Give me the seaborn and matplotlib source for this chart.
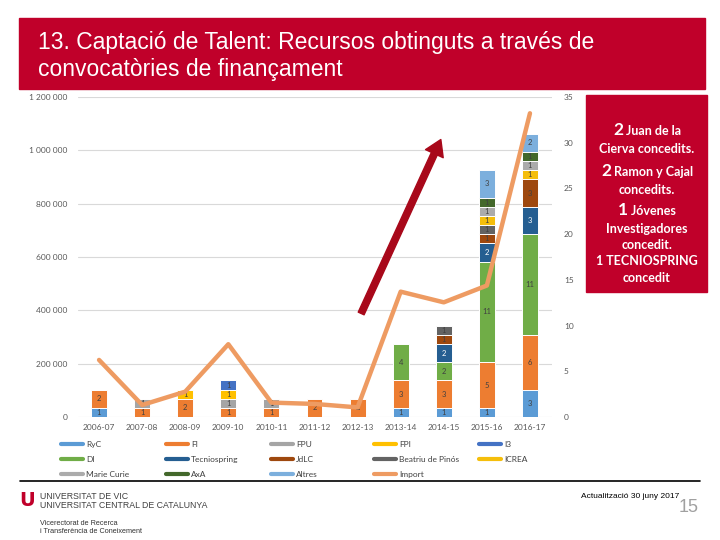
import numpy as np
import pandas as pd
import matplotlib
matplotlib.use('Agg')
import matplotlib.pyplot as plt
import seaborn as sns
from matplotlib.patches import Rectangle, FancyArrowPatch
from matplotlib.lines import Line2D

# dades
cursos = ['2006-07', '2007-08', '2008-09', '2009-10', '2010-11', '2011-12',
          '2012-13', '2013-14', '2014-15', '2015-16', '2016-17']
ryc = [1, 0, 0, 0, 0, 0, 0, 1, 1, 1, 3]
fi = [2, 1, 2, 1, 1, 2, 2, 3, 3, 5, 6]
fpu = [0, 1, 0, 1, 1, 0, 0, 0, 0, 0, 0]
fpi = [0, 0, 1, 1, 0, 0, 0, 0, 0, 0, 0]
i3 = [0, 0, 0, 1, 0, 0, 0, 0, 0, 0, 0]
di = [0, 0, 0, 0, 0, 0, 0, 4, 2, 11, 11]
tecniospring = [0, 0, 0, 0, 0, 0, 0, 0, 2, 2, 3]
jdlc = [0, 0, 0, 0, 0, 0, 0, 0, 1, 1, 3]
beatriu = [0, 0, 0, 0, 0, 0, 0, 0, 1, 1, 0]
icrea = [0, 0, 0, 0, 0, 0, 0, 0, 0, 1, 1]
marie_curie = [0, 0, 0, 0, 0, 0, 0, 0, 0, 1, 1]
axa = [0, 0, 0, 0, 0, 0, 0, 0, 0, 1, 1]
altres = [0, 0, 0, 0, 0, 0, 0, 0, 0, 3, 2]
import_eur = [214000, 45000, 95000, 273000, 54000, 49000, 36000,
              470000, 430000, 493000, 1139000]

series = [('RyC', ryc, '#5B9BD5'), ('FI', fi, '#ED7D31'), ('FPU', fpu, '#A5A5A5'),
          ('FPI', fpi, '#FFC000'), ('I3', i3, '#4472C4'), ('DI', di, '#70AD47'),
          ('Tecniospring', tecniospring, '#255E91'), ('JdLC', jdlc, '#9E480E'),
          ('Beatriu de Pinós', beatriu, '#636363'), ('ICREA', icrea, '#F5BE0B'),
          ('Marie Curie', marie_curie, '#ABABAB'), ('AxA', axa, '#43682B'),
          ('Altres', altres, '#7CAFDD')]
line_color = '#EE9B62'
red = '#C0002A'

df = pd.DataFrame({name: vals for name, vals, _ in series}, index=cursos)
cum = df.cumsum(axis=1)

sns.set_theme(style='white')
plt.rcParams['font.family'] = ['Lato', 'DejaVu Sans']

fig = plt.figure(figsize=(7.2, 5.4), dpi=100)
ax = fig.add_axes([77.5 / 720, 1 - 417 / 540, 474 / 720, 320 / 540])

# gridlines (same levels as the left axis)
for v in np.arange(0, 35.01, 35 / 6):
    ax.axhline(v, color='#D9D9D9', lw=0.8, zorder=0)

# stacked bars: cumulative totals drawn from the top down
for name, vals, color in reversed(series):
    sns.barplot(x=cursos, y=cum[name].values, color=color, width=0.37,
                edgecolor='white', linewidth=0.7, saturation=1, ax=ax, zorder=2)

for i, c in enumerate(cursos):
    bottom = 0
    for name, vals, color in series:
        v = vals[i]
        if v:
            tc = 'white' if name == 'Tecniospring' else '#404040'
            ax.text(i, bottom + v / 2, str(v), ha='center', va='center',
                    fontsize=5.5, color=tc, zorder=5)
        bottom += v

ax.set_ylim(0, 35)
ax.set_xlim(-0.5, len(cursos) - 0.5)
ax.set_xlabel('')
ax.set_ylabel('')
for s in ax.spines.values():
    s.set_visible(False)

# import line on the left axis
ax2 = ax.twinx()
sns.lineplot(x=np.arange(len(cursos)), y=import_eur, color=line_color, lw=3.2,
             ax=ax2, solid_capstyle='round', solid_joinstyle='round')
ax2.set_ylim(0, 1200000)
ax2.set_yticks(range(0, 1200001, 200000))
ax2.set_yticklabels(['0' if v == 0 else f'{v:,}'.replace(',', ' ')
                     for v in range(0, 1200001, 200000)])
ax2.yaxis.tick_left()
ax2.tick_params(axis='y', length=0, pad=7, labelsize=6, labelcolor='#595959')
for s in ax2.spines.values():
    s.set_visible(False)

# counts axis on the right (after twinx, which resets it)
ax.set_yticks(range(0, 36, 5))
ax.yaxis.tick_right()
ax.tick_params(axis='y', length=0, pad=9, labelsize=6, labelcolor='#595959')
ax.tick_params(axis='x', length=0, pad=5, labelsize=6, labelcolor='#595959')

# legend, 5 equal columns
handles = {name: Line2D([], [], color=color, lw=3) for name, _, color in series}
handles['Import'] = Line2D([], [], color=line_color, lw=3)
columns = [['RyC', 'DI', 'Marie Curie'], ['FI', 'Tecniospring', 'AxA'],
           ['FPU', 'JdLC', 'Altres'], ['FPI', 'Beatriu de Pinós', 'Import'],
           ['I3', 'ICREA']]
col_x = [61, 166, 271, 374, 479]
for x, col in zip(col_x, columns):
    leg = fig.legend([handles[n] for n in col], col, loc='upper left',
                     bbox_to_anchor=(x / 720, 1 - 441 / 540), frameon=False,
                     fontsize=6, handlelength=2.6, handletextpad=0.4,
                     labelspacing=0.95, borderpad=0, borderaxespad=0)
    for t in leg.get_texts():
        t.set_color('#404040')

# title band
fig.add_artist(Rectangle((19 / 720, 1 - 89 / 540), 686 / 720, 71 / 540,
                         transform=fig.transFigure, color=red, zorder=0))
fig.text(38 / 720, 1 - 49 / 540, '13. Captació de Talent: Recursos obtinguts a través de',
         color='white', fontsize=16.5, family='Liberation Sans', va='baseline')
fig.text(38 / 720, 1 - 76 / 540, 'convocatòries de finançament',
         color='white', fontsize=16.5, family='Liberation Sans', va='baseline')

# red arrow
fig.add_artist(FancyArrowPatch((360 / 720, 1 - 316 / 540), (442 / 720, 1 - 137 / 540),
                               transform=fig.transFigure, color='#A8081A',
                               arrowstyle='simple,head_length=0.8,head_width=1.0,tail_width=0.33',
                               mutation_scale=14, zorder=10))

# side box
fig.add_artist(Rectangle((586 / 720, 1 - 292 / 540), 121 / 720, 197 / 540,
                         transform=fig.transFigure, color=red, zorder=0))
renderer = fig.canvas.get_renderer()
cx = 647


def box_line(y, big, rest):
    if big:
        t1 = fig.text(0, 1 - y / 540, big, color='white', fontsize=12.5,
                      fontweight='bold', va='baseline')
        t2 = fig.text(0, 1 - y / 540, ' ' + rest, color='white', fontsize=9,
                      fontweight='bold', va='baseline')
        w1 = t1.get_window_extent(renderer).width
        w2 = t2.get_window_extent(renderer).width
        x0 = cx - (w1 + w2) / 2
        t1.set_x(x0 / 720)
        t2.set_x((x0 + w1) / 720)
    else:
        fig.text(cx / 720, 1 - y / 540, rest, color='white', fontsize=9,
                 fontweight='bold', va='baseline', ha='center')


box_line(135, '2', 'Juan de la')
box_line(153, None, 'Cierva concedits.')
box_line(176, '2', 'Ramon y Cajal')
box_line(194, None, 'concedits.')
box_line(215, '1', 'Jóvenes')
box_line(233, None, 'Investigadores')
box_line(249, None, 'concedit.')
box_line(265, None, '1 TECNIOSPRING')
box_line(282, None, 'concedit')

# footer
narrow = ['Liberation Sans Narrow', 'Liberation Sans']
fig.add_artist(Line2D([20 / 720, 700 / 720], [1 - 481 / 540] * 2,
                      transform=fig.transFigure, color='black', lw=1.2))
fig.text(19 / 720, 1 - 506 / 540, 'U', color=red, fontsize=14,
         fontweight='heavy', va='baseline', family='DejaVu Sans')
fig.text(40 / 720, 1 - 499 / 540, 'UNIVERSITAT DE VIC', fontsize=6.3,
         color='#404040', va='baseline', family=narrow)
fig.text(40 / 720, 1 - 508 / 540, 'UNIVERSITAT CENTRAL DE CATALUNYA', fontsize=6.3,
         color='#404040', va='baseline', family=narrow)
fig.text(40 / 720, 1 - 525 / 540, 'Vicerectorat de Recerca', fontsize=5.2,
         color='#333333', va='baseline', family=narrow)
fig.text(40 / 720, 1 - 533 / 540, 'i Transferència de Coneixement', fontsize=5.2,
         color='#333333', va='baseline', family=narrow)
fig.text(679 / 720, 1 - 498 / 540, 'Actualització 30 juny 2017', fontsize=6,
         color='black', va='baseline', ha='right', family=narrow)
fig.text(699 / 720, 1 - 508 / 540, '15', fontsize=13, color='#A0A0A0',
         va='center', ha='right', family='Liberation Sans')

fig.savefig('out.png', dpi=100)
